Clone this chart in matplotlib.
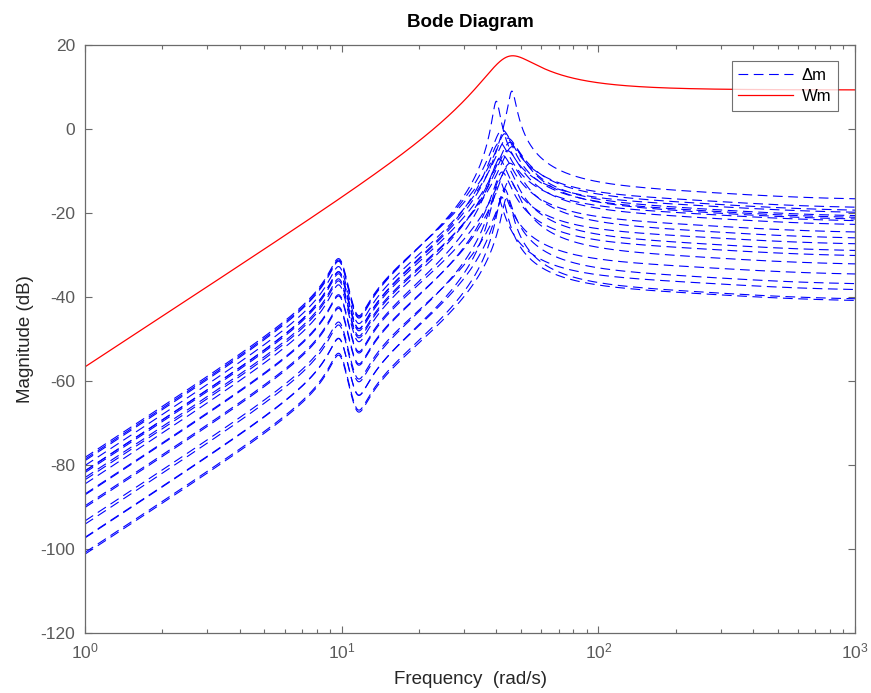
import numpy as np
import matplotlib
matplotlib.use("Agg")
import matplotlib.pyplot as plt
import matplotlib.ticker as mticker

# ── Fonts / style ────────────────────────────────────────────────────────────
plt.rcParams["font.family"] = ["Liberation Sans", "DejaVu Sans"]
plt.rcParams["mathtext.fontset"] = "custom"
plt.rcParams["mathtext.rm"] = "Liberation Sans"
plt.rcParams["mathtext.it"] = "Liberation Sans:italic"
plt.rcParams["axes.unicode_minus"] = False
plt.rcParams["lines.scale_dashes"] = False

AX_GRAY = "#6b6b6b"
TXT_GRAY = "#5a5a5a"

# ── Data: transfer-function parameters ───────────────────────────────────────
# Wm(s) = K s^2 / (s^2 + 2 z wn s + wn^2)
WM_GAIN_DB = 9.3
WM_WN = 44.5
WM_ZETA = 0.2

# Delta_m curves: shared low-frequency resonance / antiresonance pair
DM_W_POLE1 = 9.85
DM_Z_POLE1 = 0.065
DM_W_ZERO1 = 11.5
DM_Z_ZERO1 = 0.07
# shared high-frequency lag (pole, zero) in rad/s
DM_LAG_POLE = 300.0
DM_LAG_ZERO = 400.0

# per-curve gain (dB), main resonance (rad/s), damping
DM_GAIN_DB = [-14.4, -16.4, -17.1, -17.6, -18.4, -18.8, -19.2, -19.6,
              -20.5, -22.3, -23.7, -25.1, -26.7, -27.9, -29.9, -32.3,
              -34.6, -36.0, -38.2, -38.6]
DM_W_RES = [46, 42, 44, 40, 45, 43, 46, 41,
            44, 42, 45, 41, 44, 42, 45, 41,
            43, 40, 44, 42]
DM_Z_RES = [0.033, 0.076, 0.088, 0.030, 0.085, 0.064, 0.087, 0.074,
            0.084, 0.077, 0.082, 0.062, 0.065, 0.064, 0.064, 0.048,
            0.047, 0.045, 0.039, 0.037]

FREQ_MIN, FREQ_MAX, N_FREQ = 1.0, 1000.0, 3000


def mag_db(num, den, w):
    s = 1j * w
    return 20 * np.log10(np.abs(np.polyval(num, s) / np.polyval(den, s)))


w = np.logspace(np.log10(FREQ_MIN), np.log10(FREQ_MAX), N_FREQ)

fig = plt.figure(figsize=(8.71, 6.93), dpi=100)
ax = fig.add_axes([85 / 871, 60 / 693, 770 / 871, 588 / 693])

# Delta_m family
lag_num = [1 / DM_LAG_ZERO, 1]
lag_den = [1 / DM_LAG_POLE, 1]
for i, (g, wr, zr) in enumerate(zip(DM_GAIN_DB, DM_W_RES, DM_Z_RES)):
    k = 10 ** (g / 20)
    num = np.polymul(np.polymul([k, 0, 0],
                                [1, 2 * DM_Z_ZERO1 * DM_W_ZERO1, DM_W_ZERO1 ** 2]),
                     lag_num)
    den = np.polymul(np.polymul([1, 2 * DM_Z_POLE1 * DM_W_POLE1, DM_W_POLE1 ** 2],
                                [1, 2 * zr * wr, wr ** 2]),
                     lag_den)
    ax.semilogx(w, mag_db(num, den, w), color="#0000ff", lw=0.8,
                dashes=(7, 4), label="\u0394m" if i == 0 else None)

# Wm weight
k = 10 ** (WM_GAIN_DB / 20)
ax.semilogx(w, mag_db([k, 0, 0], [1, 2 * WM_ZETA * WM_WN, WM_WN ** 2], w),
            color="#ff0000", lw=0.9, label="Wm")

ax.set_xlim(FREQ_MIN, FREQ_MAX)
ax.set_ylim(-120, 20)
ax.set_yticks(np.arange(-120, 21, 20))
ax.xaxis.set_major_locator(mticker.LogLocator(base=10, numticks=10))
ax.xaxis.set_minor_locator(mticker.LogLocator(base=10, subs=np.arange(2, 10), numticks=10))
ax.xaxis.set_minor_formatter(mticker.NullFormatter())

for sp in ax.spines.values():
    sp.set_color(AX_GRAY)
    sp.set_linewidth(0.9)
ax.tick_params(which="both", direction="in", top=True, right=True,
               color=AX_GRAY, labelcolor=TXT_GRAY, labelsize=12.5)
ax.tick_params(which="major", length=5, width=0.8)
ax.tick_params(which="minor", length=3, width=0.8)
ax.tick_params(axis="y", pad=7)
ax.tick_params(axis="x", pad=6)

ax.set_xlabel("Frequency  (rad/s)", fontsize=13.5, color="#262626", labelpad=7)
ax.set_ylabel("Magnitude (dB)", fontsize=13.5, color="#262626", labelpad=5)
ax.set_title("Bode Diagram", fontsize=13.5, fontweight="bold", pad=13)

leg = ax.legend(loc="upper right", bbox_to_anchor=(0.978, 0.973), fontsize=12,
                handlelength=3.3, frameon=True, fancybox=False,
                borderpad=0.4, labelspacing=0.4, handletextpad=0.5,
                borderaxespad=0.0)
leg.get_frame().set_edgecolor("#4d4d4d")
leg.get_frame().set_linewidth(0.8)

fig.savefig("out.png", dpi=100, facecolor="white")
